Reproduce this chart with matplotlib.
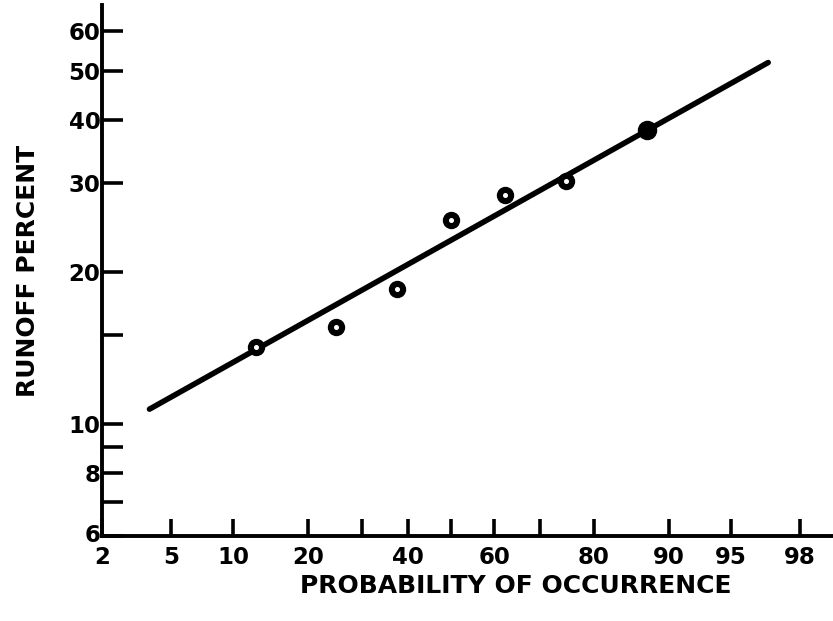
import math

import numpy as np
from matplotlib import pyplot as plt
from matplotlib.ticker import FixedLocator, NullFormatter, FixedFormatter

# plotting positions m/(n+1) and runoff for each year
prob = [12.5, 25.0, 37.5, 50.0, 62.5, 75.0, 87.5]
runoff = [14.2, 15.6, 18.5, 25.3, 28.4, 30.3, 38.2]

# fitted line, end points
line_prob = [3.8, 96.9]
line_runoff = [10.7, 52.0]

x_ticks = [2, 5, 10, 20, 30, 40, 50, 60, 70, 80, 90, 95, 98]
x_labels = ["2", "5", "10", "20", "", "40", "", "60", "", "80", "90", "95", "98"]
y_ticks = [6, 7, 8, 9, 10, 15, 20, 30, 40, 50, 60]
y_labels = ["6", "", "8", "", "10", "", "20", "30", "40", "50", "60"]


def norm_ppf(p):
    # Acklam's rational approximation of the inverse normal cdf
    p = np.clip(np.asarray(p, dtype=float), 1e-9, 1 - 1e-9)
    a = [-3.969683028665376e+01, 2.209460984245205e+02, -2.759285104469687e+02,
         1.383577518672690e+02, -3.066479806614716e+01, 2.506628277459239e+00]
    b = [-5.447609879822406e+01, 1.615858368580409e+02, -1.556989798598866e+02,
         6.680131188771972e+01, -1.328068155288572e+01]
    c = [-7.784894002430293e-03, -3.223964580411365e-01, -2.400758277161838e+00,
         -2.549732539343734e+00, 4.374664141464968e+00, 2.938163982698783e+00]
    d = [7.784695709041462e-03, 3.224671290700398e-01, 2.445134137142996e+00,
         3.754408661907416e+00]
    lo = 0.02425
    z = np.empty_like(p)
    m = p < lo
    q = np.sqrt(-2 * np.log(p[m]))
    z[m] = (((((c[0]*q+c[1])*q+c[2])*q+c[3])*q+c[4])*q+c[5]) / \
        ((((d[0]*q+d[1])*q+d[2])*q+d[3])*q+1)
    m = p > 1 - lo
    q = np.sqrt(-2 * np.log(1 - p[m]))
    z[m] = -(((((c[0]*q+c[1])*q+c[2])*q+c[3])*q+c[4])*q+c[5]) / \
        ((((d[0]*q+d[1])*q+d[2])*q+d[3])*q+1)
    m = (p >= lo) & (p <= 1 - lo)
    q = p[m] - 0.5
    r = q * q
    z[m] = (((((a[0]*r+a[1])*r+a[2])*r+a[3])*r+a[4])*r+a[5])*q / \
        (((((b[0]*r+b[1])*r+b[2])*r+b[3])*r+b[4])*r+1)
    return z


def fwd(x):
    return norm_ppf(np.asarray(x, dtype=float) / 100.0)


def inv(z):
    z = np.asarray(z, dtype=float)
    return 50.0 * (1 + np.vectorize(math.erf)(z / math.sqrt(2)))


plt.rcParams["font.family"] = ["DejaVu Sans"]
plt.rcParams["font.weight"] = "bold"

fig = plt.figure(figsize=(8.33, 6.21), dpi=100)
ax = fig.add_axes([102 / 833, 1 - 536 / 621, 731 / 833, 531 / 621])

ax.set_xscale("function", functions=(fwd, inv))
ax.set_yscale("log")
ax.set_xlim(2, 98.77)
ax.set_ylim(6, 67.6)

ax.plot(line_prob, line_runoff, color="black", lw=4.0, solid_capstyle="round", zorder=2)
ax.plot(prob, runoff, "o", color="black", ms=11.5, zorder=3)
ax.plot(prob[-1], runoff[-1], "o", color="black", ms=13, zorder=3)
ax.plot(prob[:-1], runoff[:-1], "o", color="white", ms=2.6, zorder=4)

for s in ["top", "right"]:
    ax.spines[s].set_visible(False)
for s in ["left", "bottom"]:
    ax.spines[s].set_linewidth(2.8)

ax.xaxis.set_major_locator(FixedLocator(x_ticks))
ax.xaxis.set_major_formatter(FixedFormatter(x_labels))
ax.xaxis.set_minor_formatter(NullFormatter())
ax.yaxis.set_major_locator(FixedLocator(y_ticks))
ax.yaxis.set_major_formatter(FixedFormatter(y_labels))
ax.yaxis.set_minor_locator(FixedLocator([]))
ax.yaxis.set_minor_formatter(NullFormatter())

ax.tick_params(axis="x", direction="in", length=12, width=2.6, pad=7, labelsize=16.5)
ax.tick_params(axis="y", direction="in", length=15, width=2.6, pad=1, labelsize=16.5)

# corner labels sit a little off the shared origin
for lbl in ax.get_yticklabels():
    if lbl.get_text() == "6":
        lbl.set_y(5.8)
        lbl.set_va("center")

ax.set_xlabel("PROBABILITY OF OCCURRENCE", fontsize=18, fontweight="bold")
ax.xaxis.set_label_coords(0.566, -0.072)
ax.set_ylabel("RUNOFF PERCENT", fontsize=18, fontweight="bold")
ax.yaxis.set_label_coords(-0.085, 0.5)

fig.savefig("out.png", dpi=100)
